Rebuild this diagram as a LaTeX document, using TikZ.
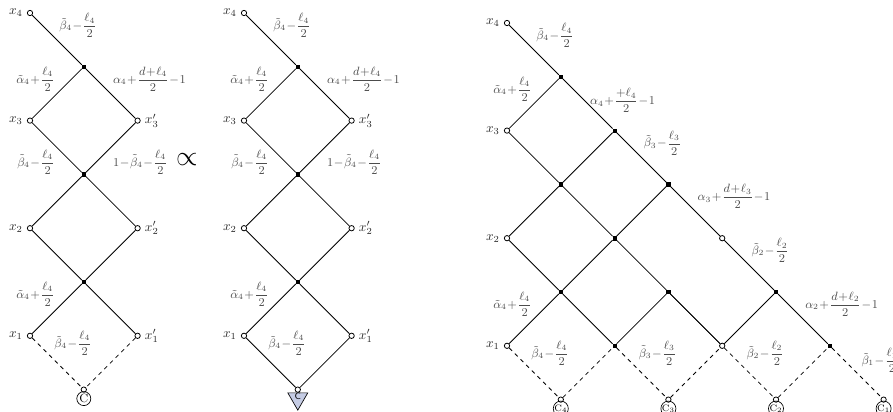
\documentclass[tikz,border=0pt]{standalone}
\usepackage{amsmath, amssymb}
\usepackage{xcolor}
\usepackage{tikz}
\usetikzlibrary{positioning, shapes.geometric}

\definecolor{trifill}{RGB}{197,204,228}

\begin{document}
\begin{tikzpicture}[x=0.75pt, y=-0.75pt, on grid, node distance=40.35pt and 40.35pt,
	every node/.style={inner sep=0pt},
	every label/.style={text=black!85, label distance=3pt},
	xv/.style={draw, circle, fill=white, minimum size=4pt, line width=0.6pt},
	jn/.style={draw, rectangle, fill=black, minimum size=2.6pt},
	cc/.style={draw, circle, minimum size=10.5pt, line width=0.5pt},
	lab/.style={font=\small, text=black!70, inner sep=1.5pt,
		execute at begin node={\medmuskip=1mu\relax}},
	ln/.style={line width=0.6pt},
	dl/.style={line width=0.6pt, dashed}]
	\useasboundingbox (0,0) rectangle (893,411);
	
	% Left graph
	\node[xv, label=left:$x_4$] (L4) at (30,13) {};
	\node[jn] (La) [below right=of L4] {};
	\node[xv, label=left:$x_3$] (L3) [below left=of La] {};
	\node[xv, label=right:$x_3'$] (L3p) [below right=of La] {};
	\node[jn] (Lb) [below right=of L3] {};
	\node[xv, label=left:$x_2$] (L2) [below left=of Lb] {};
	\node[xv, label=right:$x_2'$] (L2p) [below right=of Lb] {};
	\node[jn] (Lc) [below right=of L2] {};
	\node[xv, label=left:$x_1$] (L1) [below left=of Lc] {};
	\node[xv, label=right:$x_1'$] (L1p) [below right=of Lc] {};
	\node[xv] (L0) [below right=of L1] {};
	\node[cc, font=\small] (LC) [below=6.75pt of L0] {C};
	
	\draw[ln] (L4) -- (La) node[lab, midway, above right] {$\tilde\beta_4-\dfrac{\ell_4}{2}$};
	\draw[ln] (La) -- (L3) node[lab, midway, above left] {$\tilde\alpha_4+\dfrac{\ell_4}{2}$};
	\draw[ln] (La) -- (L3p) node[lab, midway, above right] {$\alpha_4+\dfrac{d+\ell_4}{2}-1$};
	\draw[ln] (L3) -- (Lb) node[lab, midway, below left] {$\tilde\beta_4-\dfrac{\ell_4}{2}$};
	\draw[ln] (L3p) -- (Lb) node[lab, midway, below right] {$1-\tilde\beta_4-\dfrac{\ell_4}{2}$};
	\draw[ln] (Lb) -- (L2);
	\draw[ln] (Lb) -- (L2p);
	\draw[ln] (L2) -- (Lc);
	\draw[ln] (L2p) -- (Lc);
	\draw[ln] (Lc) -- (L1) node[lab, midway, above left] {$\tilde\alpha_4+\dfrac{\ell_4}{2}$};
	\draw[ln] (Lc) -- (L1p);
	\draw[dl] (L1) -- (L0) node[lab, pos=0.4, above right] {$\tilde\beta_4-\dfrac{\ell_4}{2}$};
	\draw[dl] (L1p) -- (L0);
	
	% Proportional sign
	\node[font=\huge] (prop) at (187,160) {$\propto$};
	
	% Middle graph
	\node[xv, label=left:$x_4$] (M4) at (244,13) {};
	\node[jn] (Ma) [below right=of M4] {};
	\node[xv, label=left:$x_3$] (M3) [below left=of Ma] {};
	\node[xv, label=right:$x_3'$] (M3p) [below right=of Ma] {};
	\node[jn] (Mb) [below right=of M3] {};
	\node[xv, label=left:$x_2$] (M2) [below left=of Mb] {};
	\node[xv, label=right:$x_2'$] (M2p) [below right=of Mb] {};
	\node[jn] (Mc) [below right=of M2] {};
	\node[xv, label=left:$x_1$] (M1) [below left=of Mc] {};
	\node[xv, label=right:$x_1'$] (M1p) [below right=of Mc] {};
	\node[xv] (M0) [below right=of M1] {};
	\node[draw, fill=trifill, regular polygon, regular polygon sides=3, shape border rotate=180,
		minimum size=17.3pt, line width=0.5pt] (MC) [below=6.75pt of M0] {};
	\node[font=\sffamily\scriptsize] (MCt) at ([yshift=1.5pt]MC.center) {C};
	
	\draw[ln] (M4) -- (Ma) node[lab, midway, above right] {$\tilde\beta_4-\dfrac{\ell_4}{2}$};
	\draw[ln] (Ma) -- (M3) node[lab, midway, above left] {$\tilde\alpha_4+\dfrac{\ell_4}{2}$};
	\draw[ln] (Ma) -- (M3p) node[lab, midway, above right] {$\alpha_4+\dfrac{d+\ell_4}{2}-1$};
	\draw[ln] (M3) -- (Mb) node[lab, midway, below left] {$\tilde\beta_4-\dfrac{\ell_4}{2}$};
	\draw[ln] (M3p) -- (Mb) node[lab, midway, below right] {$1-\tilde\beta_4-\dfrac{\ell_4}{2}$};
	\draw[ln] (Mb) -- (M2);
	\draw[ln] (Mb) -- (M2p);
	\draw[ln] (M2) -- (Mc);
	\draw[ln] (M2p) -- (Mc);
	\draw[ln] (Mc) -- (M1) node[lab, midway, above left] {$\tilde\alpha_4+\dfrac{\ell_4}{2}$};
	\draw[ln] (Mc) -- (M1p);
	\draw[ln] (M1) -- (M0) node[lab, pos=0.4, above right] {$\tilde\beta_4-\dfrac{\ell_4}{2}$};
	\draw[ln] (M1p) -- (M0);
	
	% Right graph
	\node[xv, label=left:$x_4$] (r00) at (507,23) {};
	\node[jn] (r11) [below right=of r00] {};
	\node[jn] (r22) [below right=of r11] {};
	\node[jn] (r33) [below right=of r22] {};
	\node[xv] (r44) [below right=of r33] {};
	\node[jn] (r55) [below right=of r44] {};
	\node[jn] (r66) [below right=of r55] {};
	\node[xv] (r77) [below right=of r66] {};
	\node[xv, label=left:$x_3$] (r02) [below left=of r11] {};
	\node[jn] (r13) [below right=of r02] {};
	\node[jn] (r24) [below right=of r13] {};
	\node[jn] (r35) [below right=of r24] {};
	\node[xv] (r46) [below right=of r35] {};
	\node[xv] (r57) [below right=of r46] {};
	\node[xv, label=left:$x_2$] (r04) [below left=of r13] {};
	\node[jn] (r15) [below right=of r04] {};
	\node[jn] (r26) [below right=of r15] {};
	\node[xv] (r37) [below right=of r26] {};
	\node[xv, label=left:$x_1$] (r06) [below left=of r15] {};
	\node[xv] (r17) [below right=of r06] {};
	\node[cc, font=\scriptsize] (C4) [below=6.75pt of r17] {C$_4$};
	\node[cc, font=\scriptsize] (C3) [below=6.75pt of r37] {C$_3$};
	\node[cc, font=\scriptsize] (C2) [below=6.75pt of r57] {C$_2$};
	\node[cc, font=\scriptsize] (C1) [below=6.75pt of r77] {C$_1$};
	
	\draw[ln] (r00) -- (r11) node[lab, midway, above right] {$\tilde\beta_4-\dfrac{\ell_4}{2}$};
	\draw[ln] (r11) -- (r22) node[lab, midway, right, yshift=2.25pt] {$\alpha_4+\dfrac{+\ell_4}{2}-1$};
	\draw[ln] (r22) -- (r33) node[lab, midway, above right] {$\tilde\beta_3-\dfrac{\ell_3}{2}$};
	\draw[ln] (r33) -- (r44) node[lab, midway, above right] {$\alpha_3+\dfrac{d+\ell_3}{2}-1$};
	\draw[ln] (r44) -- (r55) node[lab, midway, above right] {$\tilde\beta_2-\dfrac{\ell_2}{2}$};
	\draw[ln] (r55) -- (r66) node[lab, midway, above right] {$\alpha_2+\dfrac{d+\ell_2}{2}-1$};
	\draw[dl] (r66) -- (r77) node[lab, pos=0.55, above right] {$\tilde\beta_1-\dfrac{\ell_1}{2}$};
	\draw[ln] (r02) -- (r13);
	\draw[ln] (r13) -- (r24);
	\draw[ln] (r24) -- (r35);
	\draw[ln] (r35) -- (r46);
	\draw[dl] (r46) -- (r57) node[lab, pos=0.4, above right] {$\tilde\beta_2-\dfrac{\ell_2}{2}$};
	\draw[ln] (r04) -- (r15);
	\draw[ln] (r15) -- (r26);
	\draw[dl] (r26) -- (r37) node[lab, pos=0.4, above right] {$\tilde\beta_3-\dfrac{\ell_3}{2}$};
	\draw[dl] (r06) -- (r17) node[lab, pos=0.4, above right] {$\tilde\beta_4-\dfrac{\ell_4}{2}$};
	\draw[ln] (r11) -- (r02) node[lab, midway, above left] {$\tilde\alpha_4+\dfrac{\ell_4}{2}$};
	\draw[ln] (r04) -- (r13);
	\draw[ln] (r13) -- (r22);
	\draw[ln] (r15) -- (r06) node[lab, midway, above left] {$\tilde\alpha_4+\dfrac{\ell_4}{2}$};
	\draw[ln] (r15) -- (r24);
	\draw[ln] (r24) -- (r33);
	\draw[ln] (r26) -- (r35);
	\draw[ln] (r35) -- (r46);
	\draw[ln] (r46) -- (r55);
	\draw[dl] (r17) -- (r26);
	\draw[dl] (r37) -- (r46);
	\draw[dl] (r57) -- (r66);
\end{tikzpicture}
\end{document}
